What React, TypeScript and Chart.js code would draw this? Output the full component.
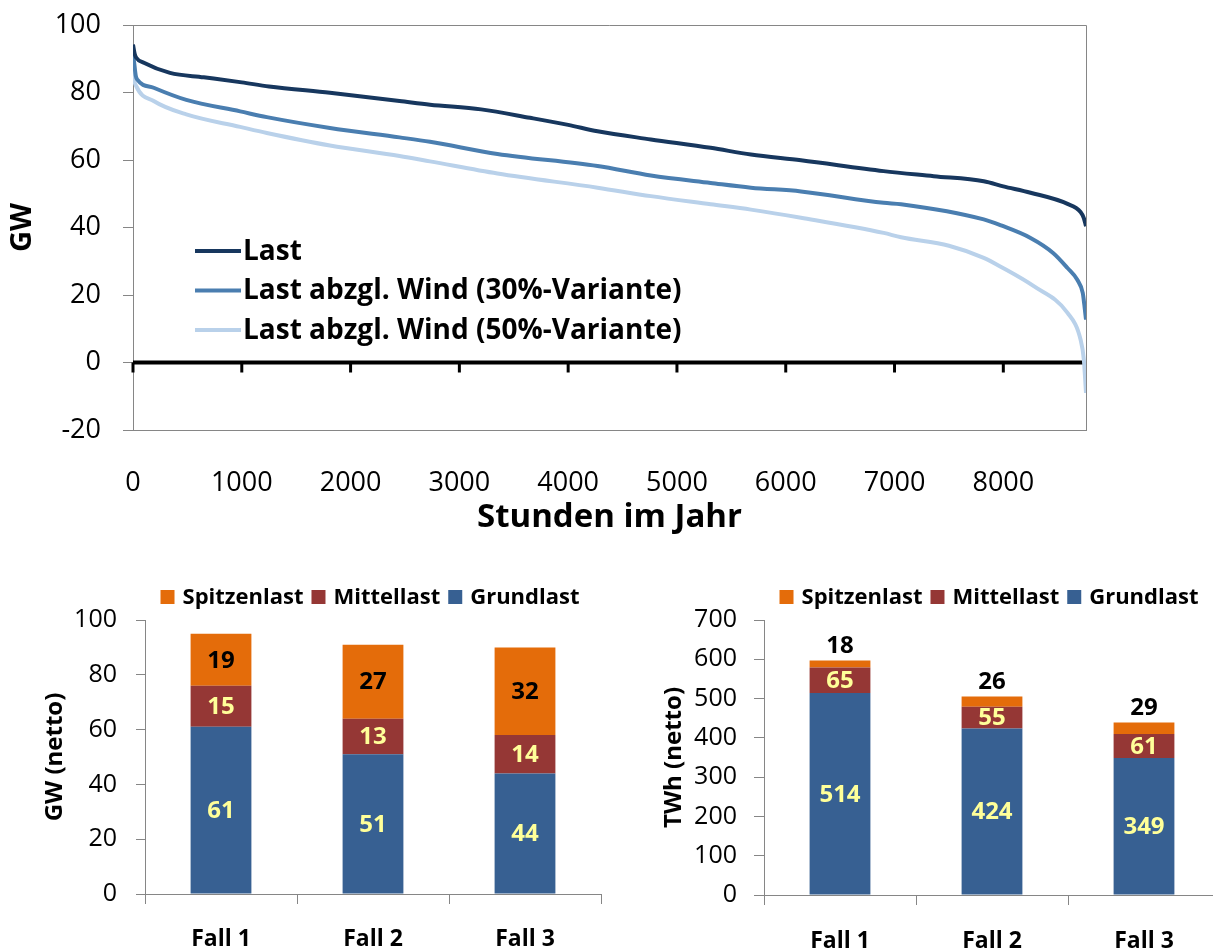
import React, { useEffect, useRef } from "react";
import { Chart, registerables } from "chart.js";

Chart.register(...registerables);

const FAMILY = "'Open Sans', 'DejaVu Sans', sans-serif";
const AXIS_GRAY = "#868686";
Chart.defaults.font.family = FAMILY;
Chart.defaults.color = "#000";

// Geordnete Jahresdauerlinien (Stunde im Jahr -> GW)
const lastHours = [0, 15, 30, 100, 340, 650, 1000, 1250, 1810, 2450, 2730, 3200, 3650, 4000, 4270, 4760, 5310, 5680, 6140, 6900, 7360, 7820, 8000, 8250, 8590, 8710, 8740, 8760];
const lastGW = [94.2, 91.5, 90.3, 88.8, 85.8, 84.5, 83.0, 81.8, 79.9, 77.5, 76.4, 75.0, 72.5, 70.4, 68.5, 66.1, 63.6, 61.6, 59.9, 56.7, 55.2, 53.7, 52.2, 50.3, 47.0, 44.6, 42.8, 40.4];

const wind30Hours = [0, 10, 25, 40, 190, 490, 985, 1230, 1810, 2450, 2730, 3350, 4270, 4760, 5310, 5680, 6140, 6900, 7060, 7820, 7980, 8250, 8460, 8590, 8680, 8730, 8745, 8760];
const wind30GW = [91.5, 89.0, 85.0, 83.8, 81.4, 77.8, 74.4, 72.7, 69.5, 66.7, 65.4, 61.8, 58.2, 55.4, 53.2, 51.8, 50.7, 47.3, 46.9, 42.4, 40.6, 36.9, 32.4, 28.0, 24.5, 20.6, 17.0, 12.7];

const wind50Hours = [0, 8, 30, 190, 490, 985, 1230, 1810, 2450, 2730, 3350, 4270, 4760, 5310, 5680, 6140, 6900, 7060, 7500, 7820, 7980, 8280, 8590, 8710, 8740, 8760];
const wind50GW = [88.5, 84.5, 81.9, 77.5, 73.5, 69.8, 68.0, 64.3, 61.2, 59.6, 56.0, 51.8, 49.3, 46.9, 45.3, 42.9, 38.4, 37.1, 34.6, 31.0, 28.3, 22.6, 14.7, 6.8, 0.9, -9.0];

const hourTicks = [0, 1000, 2000, 3000, 4000, 5000, 6000, 7000, 8000];
const gwTicks = [-20, 0, 20, 40, 60, 80, 100];

// Kraftwerkspark je Fall
const caseLabels = ["Fall 1", "Fall 2", "Fall 3"];
const gwGrundlast = [61, 51, 44];
const gwMittellast = [15, 13, 14];
const gwSpitzenlast = [19, 27, 32];
const twhGrundlast = [514, 424, 349];
const twhMittellast = [65, 55, 61];
const twhSpitzenlast = [18, 26, 29];

const COLOR_GRUND = "#376092";
const COLOR_MITTEL = "#953735";
const COLOR_SPITZE = "#E46C0A";
const COLOR_VALUE = "#FFFF99";

const zip = (xs: number[], ys: number[]) => xs.map((x, i) => ({ x, y: ys[i] }));

const font = (size: number, weight: string = "normal") => ({ family: FAMILY, size, weight });

// Rahmen des Plotbereichs und fette Nulllinie mit Stundenmarken
const frameAndZeroLine = {
  id: "frameAndZeroLine",
  beforeDatasetsDraw(chart: any) {
    const { ctx, chartArea: a, scales } = chart;
    ctx.save();
    ctx.strokeStyle = AXIS_GRAY;
    ctx.lineWidth = 1;
    ctx.beginPath();
    ctx.moveTo(a.left, a.top + 0.5);
    ctx.lineTo(a.right + 0.5, a.top + 0.5);
    ctx.lineTo(a.right + 0.5, a.bottom);
    ctx.stroke();
    const y0 = scales.y.getPixelForValue(0);
    ctx.strokeStyle = "#000";
    ctx.lineWidth = 4;
    ctx.beginPath();
    ctx.moveTo(a.left, y0);
    ctx.lineTo(a.right - 3, y0);
    ctx.stroke();
    ctx.lineWidth = 3;
    for (const h of hourTicks) {
      const x = scales.x.getPixelForValue(h);
      ctx.beginPath();
      ctx.moveTo(x, y0);
      ctx.lineTo(x, y0 + 10);
      ctx.stroke();
    }
    ctx.restore();
  },
};

// Legende der Dauerlinien innerhalb des Plotbereichs
const lineLegend = {
  id: "lineLegend",
  afterDatasetsDraw(chart: any) {
    const { ctx, chartArea: a } = chart;
    ctx.save();
    ctx.font = `bold 28px ${FAMILY}`;
    ctx.textBaseline = "middle";
    chart.data.datasets.forEach((ds: any, i: number) => {
      const y = a.top + 226 + i * 39.5;
      const x0 = a.left + 62;
      ctx.strokeStyle = ds.borderColor;
      ctx.lineWidth = 4;
      ctx.beginPath();
      ctx.moveTo(x0, y);
      ctx.lineTo(x0 + 46, y);
      ctx.stroke();
      ctx.fillStyle = "#000";
      ctx.fillText(ds.label, x0 + 48, y + 1);
    });
    ctx.restore();
  },
};

function makeLineConfig(): any {
  return {
    type: "line",
    data: {
      datasets: [
        { label: "Last", data: zip(lastHours, lastGW), borderColor: "#17375E" },
        { label: "Last abzgl. Wind (30%-Variante)", data: zip(wind30Hours, wind30GW), borderColor: "#4A7EB0" },
        { label: "Last abzgl. Wind (50%-Variante)", data: zip(wind50Hours, wind50GW), borderColor: "#B9D1EA" },
      ].map((d) => ({ ...d, borderWidth: 4, pointRadius: 0, cubicInterpolationMode: "monotone", fill: false })),
    },
    options: {
      animation: false,
      responsive: false,
      devicePixelRatio: 1,
      events: [],
      layout: { padding: { left: 0, right: 127, top: 25, bottom: 0 } },
      plugins: { legend: { display: false }, tooltip: { enabled: false } },
      scales: {
        x: {
          type: "linear",
          min: 0,
          max: 8760,
          afterBuildTicks: (s: any) => { s.ticks = hourTicks.map((v) => ({ value: v })); },
          afterFit: (s: any) => { s.height = 110; },
          ticks: { font: font(27), color: "#000", padding: 37, maxRotation: 0, autoSkip: false, callback: (v: any) => String(v) },
          grid: { display: false, drawTicks: false },
          border: { display: true, color: AXIS_GRAY, width: 1 },
          title: { display: true, text: "Stunden im Jahr", font: font(33, "bold"), color: "#000", padding: { top: 0, bottom: 3 } },
        },
        y: {
          min: -20,
          max: 100,
          afterBuildTicks: (s: any) => { s.ticks = gwTicks.map((v) => ({ value: v })); },
          afterFit: (s: any) => { s.width = 133; s.paddingTop = 0; s.paddingBottom = 0; },
          ticks: { font: font(27), color: "#000", padding: 22 },
          grid: { drawOnChartArea: false, drawTicks: true, tickLength: 10, color: AXIS_GRAY },
          border: { display: true, color: AXIS_GRAY, width: 1 },
          title: { display: true, text: "GW", font: font(29, "bold"), color: "#000", padding: { top: 5, bottom: 0 } },
        },
      },
    },
    plugins: [frameAndZeroLine, lineLegend],
  };
}

// Legende und Wertbeschriftung der gestapelten Säulen
function makeBarDecor(topOutside: boolean) {
  return {
    id: "barDecor",
    afterDatasetsDraw(chart: any) {
      const { ctx, chartArea: a } = chart;
      const sets = chart.data.datasets;
      ctx.save();
      ctx.font = `bold 24px ${FAMILY}`;
      ctx.textAlign = "center";
      ctx.textBaseline = "middle";
      sets.forEach((ds: any, di: number) => {
        const meta = chart.getDatasetMeta(di);
        const isTop = di === sets.length - 1;
        meta.data.forEach((bar: any, j: number) => {
          const v = ds.data[j];
          if (isTop && topOutside) {
            ctx.fillStyle = "#000";
            ctx.fillText(String(v), bar.x, bar.y - 14);
          } else {
            ctx.fillStyle = isTop ? "#000" : COLOR_VALUE;
            ctx.fillText(String(v), bar.x, (bar.y + bar.base) / 2 + 1);
          }
        });
      });

      const items = [...sets].reverse();
      ctx.font = `bold 22px ${FAMILY}`;
      ctx.textAlign = "left";
      const widths = items.map((d: any) => 14 + 8 + ctx.measureText(d.label).width);
      const total = widths.reduce((s: number, w: number) => s + w, 0) + 8 * (items.length - 1);
      let x = (a.left + a.right) / 2 - total / 2 - 3;
      const y = 37;
      items.forEach((d: any, i: number) => {
        ctx.fillStyle = d.backgroundColor;
        ctx.fillRect(x, y - 7, 14, 14);
        ctx.fillStyle = "#000";
        ctx.fillText(d.label, x + 22, y + 1);
        x += widths[i] + 8;
      });
      ctx.restore();
    },
  };
}

interface BarSpec {
  grund: number[];
  mittel: number[];
  spitze: number[];
  yMax: number;
  yStep: number;
  yTitle: string;
  yWidth: number;
  yTickPad: number;
  yTickLen: number;
  yTitlePad: number;
  xHeight: number;
  xPad: number;
  rightPad: number;
  topOutside: boolean;
}

function makeBarConfig(p: BarSpec): any {
  const yTicks: number[] = [];
  for (let v = 0; v <= p.yMax; v += p.yStep) yTicks.push(v);
  return {
    type: "bar",
    data: {
      labels: caseLabels,
      datasets: [
        { label: "Grundlast", data: p.grund, backgroundColor: COLOR_GRUND },
        { label: "Mittellast", data: p.mittel, backgroundColor: COLOR_MITTEL },
        { label: "Spitzenlast", data: p.spitze, backgroundColor: COLOR_SPITZE },
      ].map((d) => ({ ...d, borderWidth: 0, barPercentage: 0.4, categoryPercentage: 1.0 })),
    },
    options: {
      animation: false,
      responsive: false,
      devicePixelRatio: 1,
      events: [],
      layout: { padding: { left: 0, right: p.rightPad, top: 60, bottom: 0 } },
      plugins: { legend: { display: false }, tooltip: { enabled: false } },
      scales: {
        x: {
          stacked: true,
          afterFit: (s: any) => { s.height = p.xHeight; },
          ticks: { font: font(23, "bold"), color: "#000", padding: p.xPad, maxRotation: 0 },
          grid: { display: true, drawOnChartArea: false, drawTicks: true, tickLength: 10, color: AXIS_GRAY, offset: true },
          border: { display: true, color: AXIS_GRAY, width: 1 },
        },
        y: {
          stacked: true,
          min: 0,
          max: p.yMax,
          afterBuildTicks: (s: any) => { s.ticks = yTicks.map((v) => ({ value: v })); },
          afterFit: (s: any) => { s.width = p.yWidth; },
          ticks: { font: font(25), color: "#000", padding: p.yTickPad },
          grid: { drawOnChartArea: false, drawTicks: true, tickLength: p.yTickLen, color: AXIS_GRAY },
          border: { display: true, color: AXIS_GRAY, width: 1 },
          title: { display: true, text: p.yTitle, font: font(24, "bold"), color: "#000", padding: { top: p.yTitlePad, bottom: 0 } },
        },
      },
    },
    plugins: [makeBarDecor(p.topOutside)],
  };
}

function ChartCanvas(props: { make: () => any; left: number; top: number; width: number; height: number }) {
  const ref = useRef<HTMLCanvasElement>(null);
  useEffect(() => {
    const chart = new Chart(ref.current as HTMLCanvasElement, props.make());
    return () => chart.destroy();
  }, []);
  return (
    <canvas
      ref={ref}
      width={props.width}
      height={props.height}
      style={{ position: "absolute", left: props.left, top: props.top, width: props.width, height: props.height, display: "block" }}
    />
  );
}

export default function App() {
  return (
    <div style={{ position: "absolute", left: 0, top: 0, width: 1213, height: 952, overflow: "hidden", background: "#fff" }}>
      <ChartCanvas make={makeLineConfig} left={0} top={0} width={1213} height={540} />
      <ChartCanvas
        make={() =>
          makeBarConfig({
            grund: gwGrundlast, mittel: gwMittellast, spitze: gwSpitzenlast,
            yMax: 100, yStep: 20, yTitle: "GW (netto)", yWidth: 145, yTickPad: 19, yTickLen: 9, yTitlePad: 41,
            xHeight: 58, xPad: 22, rightPad: 5, topOutside: false,
          })
        }
        left={0}
        top={560}
        width={606}
        height={392}
      />
      <ChartCanvas
        make={() =>
          makeBarConfig({
            grund: twhGrundlast, mittel: twhMittellast, spitze: twhSpitzenlast,
            yMax: 700, yStep: 100, yTitle: "TWh (netto)", yWidth: 158, yTickPad: 17, yTickLen: 10, yTitlePad: 54,
            xHeight: 57, xPad: 23, rightPad: 0, topOutside: true,
          })
        }
        left={606}
        top={560}
        width={614}
        height={392}
      />
    </div>
  );
}
